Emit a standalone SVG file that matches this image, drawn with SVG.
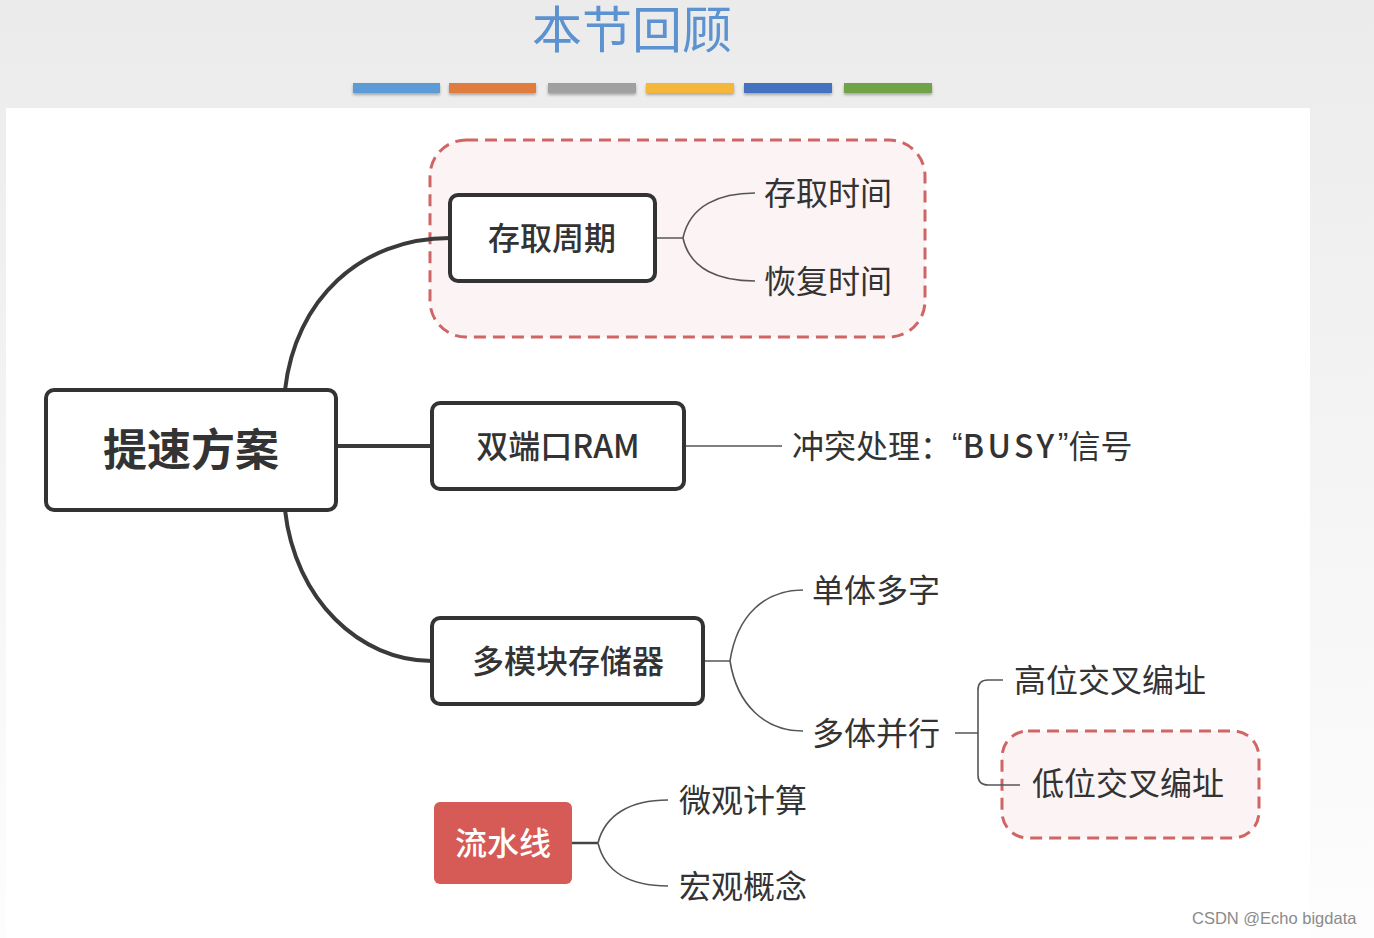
<svg xmlns="http://www.w3.org/2000/svg" width="1374" height="938" viewBox="0 0 1374 938">
<defs>
<linearGradient id="bg" x1="0" y1="0" x2="0" y2="1">
<stop offset="0" stop-color="#ebebeb"/>
<stop offset="0.6" stop-color="#f6f6f6"/>
<stop offset="1" stop-color="#fdfdfd"/>
</linearGradient>
<filter id="sh" x="-10%" y="-50%" width="120%" height="250%">
<feDropShadow dx="0" dy="2" stdDeviation="1.5" flood-color="#000" flood-opacity="0.3"/>
</filter>
</defs>
<style>
.t{font-family:"Noto Sans CJK SC","Noto Sans",sans-serif;fill:#333;dominant-baseline:central}
.q{font-family:"Liberation Sans",sans-serif}
.box{fill:#fff;stroke:#333;stroke-width:4}
.grp{fill:#fcf4f4;stroke:#d06565;stroke-width:3;stroke-dasharray:12 7}
.main{fill:none;stroke:#3a3a3a;stroke-width:4}
.thin{fill:none;stroke:#555;stroke-width:1.6}
.mid{fill:none;stroke:#444;stroke-width:2.5}
</style>
<rect x="0" y="0" width="1374" height="938" fill="url(#bg)"/>
<rect x="6" y="108" width="1304" height="830" fill="#ffffff"/>
<text x="632" y="26" class="t" text-anchor="middle" font-size="50" style="fill:#5b92cf">本节回顾</text>
<g id="bars" filter="url(#sh)">
<rect x="353" y="83" width="87" height="10" fill="#5b9bd5"/>
<rect x="449" y="83" width="87" height="10" fill="#e07b3c"/>
<rect x="548" y="83" width="88" height="10" fill="#a0a0a0"/>
<rect x="646" y="83" width="88" height="10" fill="#f5b73a"/>
<rect x="744" y="83" width="88" height="10" fill="#4472bf"/>
<rect x="844" y="83" width="88" height="10" fill="#6fa347"/>
</g>
<g id="groups">
<rect class="grp" x="430" y="140" width="495" height="197" rx="36"/>
<rect class="grp" x="1002" y="731" width="257" height="107" rx="26"/>
</g>
<g id="connectors">
<path class="main" d="M285,390 C295,300 360,238 450,238"/>
<path class="main" d="M285,510 C295,600 360,661 432,661"/>
<path class="main" d="M336,446 H432"/>
<path class="thin" d="M655,238 H683 C690,205 720,193 755,193 M683,238 C690,270 720,281 755,281"/>
<path class="thin" d="M684,446 H782"/>
<path class="thin" d="M703,661 H730 C737,615 765,590 803,590 M730,661 C737,705 765,731 803,731"/>
<path class="thin" d="M955,733 H978 M1003,680 H988 Q978,680 978,690 V775 Q978,785 988,785 H1020"/>
<path class="mid" d="M572,843 H598"/>
<path class="thin" d="M598,843 C605,815 630,800 668,800 M598,843 C605,872 630,886 668,886"/>
</g>
<g id="n-root">
<rect class="box" x="46" y="390" width="290" height="120" rx="8"/>
<text class="t" x="191" y="447" text-anchor="middle" font-size="44" font-weight="bold">提速方案</text>
</g>
<g id="n-cycle">
<rect class="box" x="450" y="195" width="205" height="86" rx="8"/>
<text class="t" x="552" y="236" text-anchor="middle" font-size="32" font-weight="500">存取周期</text>
</g>
<g id="n-access"><text class="t" x="764" y="191" font-size="32">存取时间</text></g>
<g id="n-recover"><text class="t" x="764" y="279" font-size="32">恢复时间</text></g>
<g id="n-dual">
<rect class="box" x="432" y="403" width="252" height="86" rx="8"/>
<text class="t" x="558" y="444" text-anchor="middle" font-size="32" font-weight="500">双端口RAM</text>
</g>
<g id="n-busy"><text class="t" x="792" y="444" font-size="32">冲突处理：<tspan class="q">“</tspan><tspan font-weight="500" letter-spacing="3.5">BUSY</tspan><tspan class="q">”</tspan>信号</text></g>
<g id="n-multi">
<rect class="box" x="432" y="618" width="271" height="86" rx="8"/>
<text class="t" x="568" y="659" text-anchor="middle" font-size="32" font-weight="500">多模块存储器</text>
</g>
<g id="n-single"><text class="t" x="812" y="588" font-size="32">单体多字</text></g>
<g id="n-parallel"><text class="t" x="812" y="731" font-size="32">多体并行</text></g>
<g id="n-high"><text class="t" x="1014" y="678" font-size="32">高位交叉编址</text></g>
<g id="n-low"><text class="t" x="1032" y="781" font-size="32">低位交叉编址</text></g>
<g id="n-pipe">
<rect x="434" y="802" width="138" height="82" rx="6" fill="#d65a55"/>
<text class="t" x="503" y="841" text-anchor="middle" font-size="32" font-weight="500" style="fill:#fff">流水线</text>
</g>
<g id="n-micro"><text class="t" x="679" y="798" font-size="32">微观计算</text></g>
<g id="n-macro"><text class="t" x="679" y="884" font-size="32">宏观概念</text></g>
<text x="1192" y="924" font-family="Liberation Sans, sans-serif" font-size="16.5" fill="#8a8a8a">CSDN @Echo bigdata</text>
</svg>
